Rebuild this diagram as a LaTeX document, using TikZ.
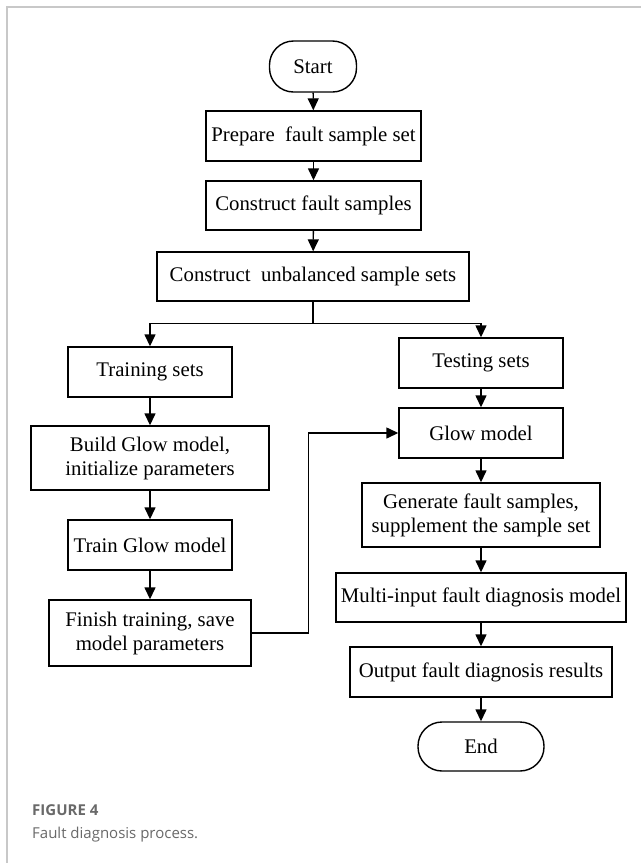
\documentclass[tikz,border=0pt]{standalone}
\usepackage{fontspec}
\setmainfont{Liberation Serif}
\newfontfamily\capfont{Open Sans}
\usetikzlibrary{arrows.meta}
\begin{document}
\begin{tikzpicture}[x=1pt,y=-1pt,
  every node/.style={font=\fontsize{20.8}{24}\selectfont},
  box/.style={draw=black,line width=1.4pt,rectangle,inner sep=0pt,align=center},
  term/.style={box,rounded corners=24pt},
  arr/.style={line width=1.4pt,-{Triangle[length=12pt,width=11pt]}},
  ln/.style={line width=1.4pt}]
\useasboundingbox (0,0) rectangle (641,863);
\fill[white] (0,0) rectangle (641,863);
\draw[line width=1.5pt,color={rgb,255:red,200;green,200;blue,200}] (7,863) -- (7,7) -- (641,7);

\node[term,minimum width=87pt,minimum height=51pt] (start) at (313,66.5) {Start};
\node[box,minimum width=215pt,minimum height=50pt] (prep) at (313.5,136) {Prepare~ fault sample set};
\node[box,minimum width=215pt,minimum height=49pt] (cfs) at (313.5,205.5) {Construct fault samples};
\node[box,minimum width=312pt,minimum height=49pt] (cus) at (313,276.5) {Construct~ unbalanced sample sets};

\node[box,minimum width=164pt,minimum height=50pt] (train) at (150,372) {Training sets};
\node[box,minimum width=238pt,minimum height=64pt] (build) at (150,458) {Build Glow model,\\initialize parameters};
\node[box,minimum width=164pt,minimum height=50pt] (tgm) at (150,545) {Train Glow model};
\node[box,minimum width=202pt,minimum height=66pt] (finish) at (150,633) {Finish training, save\\model parameters};

\node[box,minimum width=164pt,minimum height=50pt] (test) at (481,363) {Testing sets};
\node[box,minimum width=164pt,minimum height=50pt] (glow) at (481,433) {Glow model};
\node[box,minimum width=238pt,minimum height=64pt] (gen) at (481,515) {Generate fault samples,\\supplement the sample set};
\node[box,minimum width=290pt,minimum height=49pt] (multi) at (481,597.5) {Multi-input fault diagnosis model};
\node[box,minimum width=262pt,minimum height=50pt] (out) at (481,672) {Output fault diagnosis results};
\node[term,minimum width=126pt,minimum height=49pt] (end) at (481,746.5) {End};

\draw[arr] (start) -- (prep);
\draw[arr] (prep) -- (cfs);
\draw[arr] (cfs) -- (cus);
\draw[ln] (cus.south) -- ++(0,22) coordinate (split);
\draw[arr] (split) -| (train.north);
\draw[arr] (split) -| (test.north);
\draw[arr] (train) -- (build);
\draw[arr] (build) -- (tgm);
\draw[arr] (tgm) -- (finish);
\draw[arr] (finish.east) -- ++(57,0) |- (glow.west);
\draw[arr] (test) -- (glow);
\draw[arr] (glow) -- (gen);
\draw[arr] (gen) -- (multi);
\draw[arr] (multi) -- (out);
\draw[arr] (out) -- (end);

\node[anchor=base west,inner sep=0pt,font=\capfont\bfseries\fontsize{15}{18}\selectfont,color={rgb,255:red,105;green,105;blue,105}] (fig) at (32,815) {FIGURE 4};
\node[anchor=base west,inner sep=0pt,font=\capfont\fontsize{15}{18}\selectfont,color={rgb,255:red,105;green,105;blue,105}] (cap) at (32,838) {Fault diagnosis process.};
\end{tikzpicture}
\end{document}
